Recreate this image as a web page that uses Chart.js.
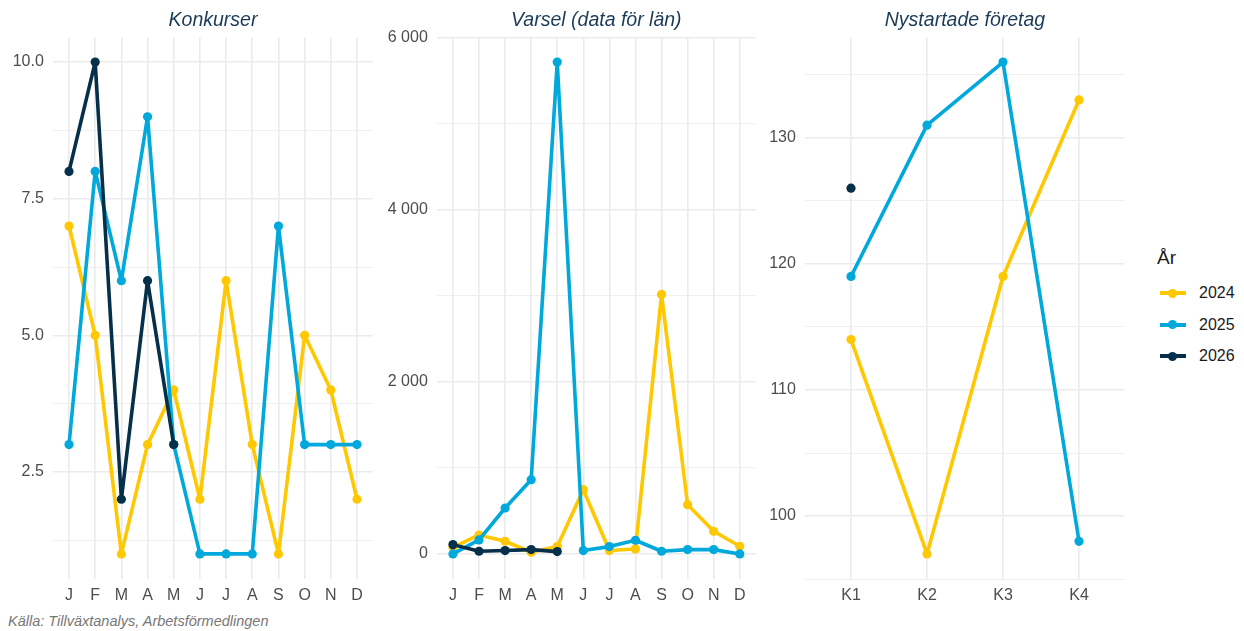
<!DOCTYPE html>
<html><head><meta charset="utf-8">
<script src="https://cdn.jsdelivr.net/npm/chart.js@4.4.1/dist/chart.umd.min.js"></script>
<style>
body{margin:0;width:1244px;height:631px;background:#fff;position:relative;overflow:hidden;font-family:"Liberation Sans",Arial,sans-serif;}
.panel{position:absolute;top:0;height:612px;width:380px;}
#legend{position:absolute;left:1157px;top:247px;color:#1a1a1a;}
#legend .t{font-size:19px;margin-bottom:9px;}
#legend .it{position:relative;height:31.7px;font-size:16px;}
#legend .ln{position:absolute;left:3px;top:13px;width:26px;height:4px;}
#legend .dt{position:absolute;left:11px;top:10.5px;width:9px;height:9px;border-radius:50%;}
#legend .lb{position:absolute;left:42px;top:6px;}
#caption{position:absolute;left:8px;top:613px;font-size:14.5px;font-style:italic;color:#777;}
</style></head>
<body>
<div class="panel" style="left:0px"><canvas id="c1"></canvas></div>
<div class="panel" style="left:380px"><canvas id="c2"></canvas></div>
<div class="panel" style="left:760px"><canvas id="c3"></canvas></div>
<div id="legend"></div>
<div id="caption">Källa: Tillväxtanalys, Arbetsförmedlingen</div>
<script>
// ---- data ----
const months = ['J','F','M','A','M','J','J','A','S','O','N','D'];
const quarters = ['K1','K2','K3','K4'];
const years = ['2024','2025','2026'];
const titles = ['Konkurser','Varsel (data för län)','Nystartade företag'];
const konk2024 = [7,5,1,3,4,2,6,3,1,5,4,2];
const konk2025 = [3,8,6,9,3,1,1,1,7,3,3,3];
const konk2026 = [8,10,2,6,3];
const varsel2024 = [77,220,147,20,85,747,39,58,3018,573,263,89];
const varsel2025 = [0,163,534,863,5720,39,85,159,31,50,50,0];
const varsel2026 = [108,31,39,50,27];
const nyst2024 = [114,97,119,133];
const nyst2025 = [119,131,136,98];
const nyst2026 = [126];
// tick labels (major) and minor gridline positions
const konkTicks = [2.5,5,7.5,10];
const konkMinor = [1.25,3.75,6.25,8.75];
const varselTicks = [0,2000,4000,6000];
const varselMinor = [1000,3000,5000];
const nystTicks = [100,110,120,130];
const nystMinor = [95,105,115,125,135];

const colors = {'2024':'#FFC800','2025':'#00A8DC','2026':'#06304A'};
const FONT = '"Liberation Sans", Arial, sans-serif';
const GRID = '#ebebeb';

// panel title centred over the plotting area (like ggplot facet titles)
const panelTitle = {
  id:'panelTitle',
  afterDraw(chart, args, opts){
    const a = chart.chartArea, ctx = chart.ctx;
    ctx.save();
    ctx.font = 'italic 19.5px ' + FONT;
    ctx.fillStyle = '#1a3a58';
    ctx.textAlign = 'center';
    ctx.textBaseline = 'alphabetic';
    ctx.fillText(opts.text, (a.left + a.right) / 2, 26);
    ctx.restore();
  }
};

function ds(year, arr, order){
  return {label:year, data:arr.map((v,i)=>({x:i,y:v})), borderColor:colors[year], backgroundColor:colors[year],
    pointBackgroundColor:colors[year], borderWidth:3.6, pointRadius:4.6, pointBorderWidth:0, pointHoverRadius:4.6,
    borderJoinStyle:'round', borderCapStyle:'round', tension:0, order:order};
}
function isMajor(v, majors){ return majors.some(m=>Math.abs(m-v)<1e-6); }

function makeChart(id, title, cats, series, yMin, yMax, majors, minors, fmt, yWidth, padRight){
  const n = cats.length;
  const yTickVals = majors.concat(minors).sort((a,b)=>a-b);
  new Chart(document.getElementById(id), {
    type:'line',
    data:{datasets:series},
    plugins:[panelTitle],
    options:{
      responsive:true, maintainAspectRatio:false, animation:false,
      layout:{padding:{left:0,right:padRight,top:37.5,bottom:0}},
      plugins:{
        legend:{display:false}, tooltip:{enabled:false}, title:{display:false},
        panelTitle:{text:title}
      },
      scales:{
        x:{type:'linear', min:-0.6, max:n-1+0.6, border:{display:false},
          afterBuildTicks:(s)=>{ s.ticks = cats.map((c,i)=>({value:i})); },
          ticks:{autoSkip:false, maxRotation:0, color:'#4d4d4d', padding:7, font:{family:FONT,size:16},
            callback:(v)=>cats[Math.round(v)]},
          grid:{color:GRID, lineWidth:1.6, drawTicks:false},
          afterFit:(s)=>{s.height=33.5;}
        },
        y:{type:'linear', min:yMin, max:yMax, border:{display:false},
          afterBuildTicks:(s)=>{ s.ticks = yTickVals.map(v=>({value:v})); },
          ticks:{autoSkip:false, color:'#4d4d4d', padding:9.5, font:{family:FONT,size:16},
            callback:(v)=>isMajor(v,majors)?fmt(v):''},
          grid:{color:GRID, drawTicks:false, lineWidth:(ctx)=> ctx.tick && isMajor(ctx.tick.value,majors)?1.6:0.8},
          afterFit:(s)=>{s.width=yWidth;}
        }
      }
    }
  });
}

makeChart('c1', titles[0], months,
  [ds('2024',konk2024,2), ds('2025',konk2025,1), ds('2026',konk2026,0)],
  0.55, 10.45, konkTicks, konkMinor, v=>v.toFixed(1), 53.3, 7.3);

makeChart('c2', titles[1], months,
  [ds('2024',varsel2024,2), ds('2025',varsel2025,1), ds('2026',varsel2026,0)],
  -286, 6006, varselTicks, varselMinor, v=>String(Math.round(v)).replace(/\B(?=(\d{3})+(?!\d))/g,' '), 57.3, 4.3);

makeChart('c3', titles[2], quarters,
  [ds('2024',nyst2024,2), ds('2025',nyst2025,1), ds('2026',nyst2026,0)],
  95.05, 137.95, nystTicks, nystMinor, v=>String(Math.round(v)), 45.4, 15.4);

// legend
const lg = document.getElementById('legend');
let html = '<div class="t">År</div>';
years.forEach(y=>{
  html += '<div class="it"><div class="ln" style="background:'+colors[y]+'"></div><div class="dt" style="background:'+colors[y]+'"></div><div class="lb">'+y+'</div></div>';
});
lg.innerHTML = html;
</script>
</body></html>
